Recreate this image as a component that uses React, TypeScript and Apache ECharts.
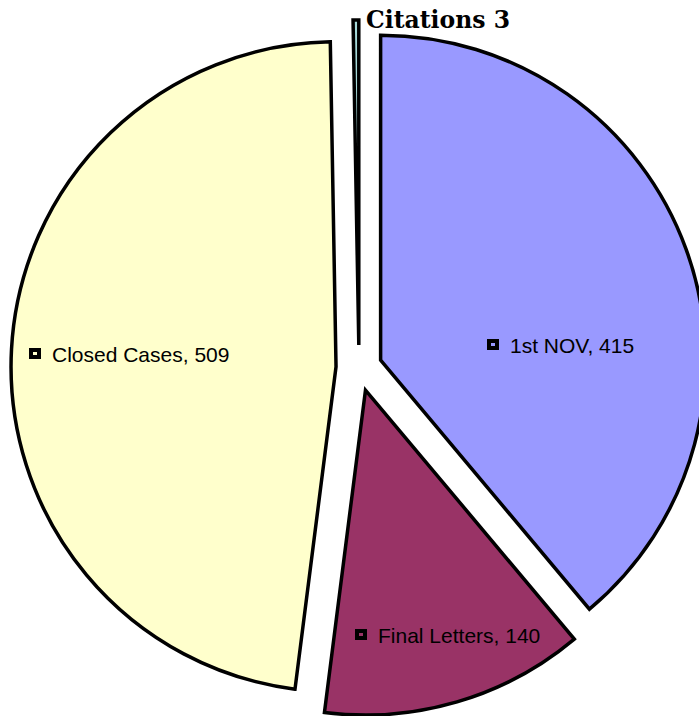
import React, { useEffect, useRef } from "react";
import * as echarts from "echarts";

const categories = ["1st NOV", "Final Letters", "Closed Cases", "Citations"];
const values = [415, 140, 509, 3];
const colors = ["#9999FF", "#993366", "#FFFFCC", "#A6D9D9"];
// label anchor (left of marker / text, vertical middle), in px
const labelAnchors: [number, number][] = [
  [487, 345],
  [355, 635],
  [29, 354],
  [366, 20],
];

export default function App() {
  const ref = useRef<HTMLDivElement>(null);
  useEffect(() => {
    if (!ref.current) return;
    const chart = echarts.init(ref.current, null, { renderer: "svg" });
    const data = categories.map((name, i) => ({
      name,
      value: values[i],
      selected: true,
      itemStyle: { color: colors[i] },
    }));
    const graphics: any[] = [];
    categories.forEach((name, i) => {
      const [x, y] = labelAnchors[i];
      if (name === "Citations") {
        graphics.push({
          type: "text",
          z: 100,
          x,
          y,
          style: {
            text: `${name} ${values[i]}`,
            fontFamily: "'DejaVu Serif', serif",
            fontWeight: "bold",
            fontSize: 23.5,
            fill: "#000",
            textAlign: "left",
            textVerticalAlign: "middle",
          },
        });
      } else {
        graphics.push({
          type: "rect",
          z: 100,
          shape: { x: x + 2, y: y - 4, width: 8, height: 7 },
          style: { fill: colors[i], stroke: "#000", lineWidth: 4 },
        });
        graphics.push({
          type: "text",
          z: 100,
          x: x + 23,
          y,
          style: {
            text: `${name}, ${values[i]}`,
            fontFamily: "'Liberation Sans', Arial, sans-serif",
            fontSize: 21,
            fill: "#000",
            textAlign: "left",
            textVerticalAlign: "middle",
          },
        });
      }
    });
    chart.setOption({
      animation: false,
      backgroundColor: "#fff",
      series: [
        {
          type: "pie",
          z: 2,
          center: [359, 368],
          radius: 325,
          startAngle: 90,
          clockwise: true,
          selectedMode: "multiple",
          selectedOffset: 23,
          itemStyle: { borderColor: "#000", borderWidth: 3.5, borderJoin: "miter" },
          select: { itemStyle: { borderColor: "#000", borderWidth: 3.5 } },
          emphasis: { disabled: true },
          label: { show: false },
          labelLine: { show: false },
          data,
        },
      ],
      graphic: { elements: graphics },
    });
    return () => chart.dispose();
  }, []);
  return (
    <div
      ref={ref}
      style={{ position: "fixed", left: 0, top: 0, width: 699, height: 716 }}
    />
  );
}
